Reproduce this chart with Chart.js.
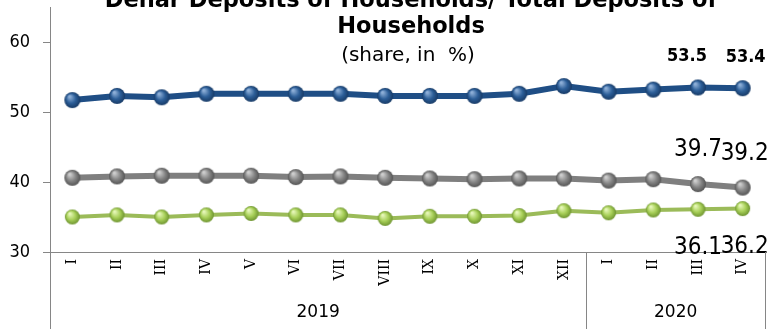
<!DOCTYPE html>
<html>
<head>
<meta charset="utf-8">
<script src="https://cdn.jsdelivr.net/npm/chart.js@4"></script>
<style>
html, body { margin: 0; padding: 0; background: #fff; }
#wrap { width: 771px; height: 329px; }
</style>
</head>
<body>
<div id="wrap"><canvas id="myChart" width="771" height="329"></canvas></div>
<script>
// data
const months = ['I','II','III','IV','V','VI','VII','VIII','IX','X','XI','XII','I','II','III','IV'];
const years = ['2019', '2020'];
const yearSpan = [12, 4];
const yTicks = [30, 40, 50, 60];

const serieAzul  = [51.7, 52.3, 52.1, 52.6, 52.6, 52.6, 52.6, 52.3, 52.3, 52.3, 52.6, 53.7, 52.9, 53.2, 53.5, 53.4];
const serieGris  = [40.6, 40.8, 40.9, 40.9, 40.9, 40.7, 40.8, 40.6, 40.5, 40.4, 40.5, 40.5, 40.2, 40.4, 39.7, 39.2];
const serieVerde = [35.0, 35.3, 35.0, 35.3, 35.5, 35.3, 35.3, 34.8, 35.1, 35.1, 35.2, 35.9, 35.6, 36.0, 36.1, 36.2];

const conEtiqueta = [14, 15];   // III and IV 2020 carry value labels

const titulo1 = 'Denar Deposits of Households/ Total Deposits of';
const titulo2 = 'Households';
const subtitulo = '(share, in  %)';

// little shaded balls for the markers
function bolita(r, claro, base, oscuro) {
  const c = document.createElement('canvas');
  const s = Math.ceil(r * 2 + 2);
  c.width = s; c.height = s;
  const g = c.getContext('2d');
  const m = s / 2;
  const grad = g.createRadialGradient(m - r * 0.35, m - r * 0.45, r * 0.1, m, m, r);
  grad.addColorStop(0, claro);
  grad.addColorStop(0.55, base);
  grad.addColorStop(1, oscuro);
  g.fillStyle = grad;
  g.beginPath();
  g.arc(m, m, r, 0, Math.PI * 2);
  g.fill();
  return c;
}

// label look per dataset (same order as datasets)
const estiloEtiqueta = [
  { font: 'bold 18px "DejaVu Sans Condensed"', dx: [-11, 3], dy: -31 },
  { font: '24px "DejaVu Sans Condensed"', dx: [0, 2], dy: -34 },
  { font: '24px "DejaVu Sans Condensed"', dx: [0, 2], dy: 38 }
];

const etiquetas = {
  id: 'etiquetas',
  afterDatasetsDraw(chart) {
    const ctx = chart.ctx;
    chart.data.datasets.forEach((ds, i) => {
      const st = estiloEtiqueta[i];
      const meta = chart.getDatasetMeta(i);
      conEtiqueta.forEach((idx, k) => {
        const p = meta.data[idx];
        ctx.save();
        ctx.font = st.font;
        ctx.fillStyle = '#000';
        ctx.textAlign = 'center';
        ctx.textBaseline = 'middle';
        ctx.fillText(ds.data[idx].toFixed(1), p.x + st.dx[k], p.y + st.dy);
        ctx.restore();
      });
    });
  }
};

// titles + year row under the month labels
const extras = {
  id: 'extras',
  afterDraw(chart) {
    const ctx = chart.ctx;
    const area = chart.chartArea;
    const xs = chart.scales.x;
    ctx.save();
    ctx.fillStyle = '#000';
    ctx.textAlign = 'center';
    ctx.textBaseline = 'alphabetic';
    ctx.font = 'bold 22.5px "DejaVu Sans"';
    ctx.fillText(titulo1, 411, 7);
    ctx.fillText(titulo2, 411, 33);
    ctx.font = '20px "DejaVu Sans"';
    ctx.fillText(subtitulo, 408, 61);

    const medio = (xs.getPixelForValue(1) - xs.getPixelForValue(0)) / 2;
    ctx.strokeStyle = '#868686';
    ctx.lineWidth = 1;
    ctx.font = '17px "DejaVu Sans"';
    ctx.textBaseline = 'middle';
    let inicio = 0;
    years.forEach((y, i) => {
      const fin = inicio + yearSpan[i] - 1;
      const izq = xs.getPixelForValue(inicio) - medio;
      const der = xs.getPixelForValue(fin) + medio;
      [izq, der].forEach(x => {
        const px = Math.round(x) + 0.5;
        ctx.beginPath();
        ctx.moveTo(px, area.bottom);
        ctx.lineTo(px, chart.height);
        ctx.stroke();
      });
      ctx.fillText(y, (izq + der) / 2, 313);
      inicio = fin + 1;
    });
    ctx.restore();
  }
};

function sinRelleno(s) {
  s.paddingTop = 0; s.paddingBottom = 0; s.paddingLeft = 0; s.paddingRight = 0;
}

const ctx = document.getElementById('myChart');
new Chart(ctx, {
  type: 'line',
  data: {
    labels: months,
    datasets: [
      {
        data: serieAzul,
        borderColor: '#1F4E85',
        borderWidth: 6,
        pointStyle: bolita(8, '#8fb0d8', '#2C5E98', '#173a66'),
        pointRadius: 8
      },
      {
        data: serieGris,
        borderColor: '#7F7F7F',
        borderWidth: 6,
        pointStyle: bolita(8, '#cfcfcf', '#858585', '#555555'),
        pointRadius: 8
      },
      {
        data: serieVerde,
        borderColor: '#9BBB59',
        borderWidth: 4,
        pointStyle: bolita(7.5, '#e6f7b8', '#a7cf58', '#6e9430'),
        pointRadius: 7.5
      }
    ]
  },
  options: {
    responsive: false,
    animation: false,
    devicePixelRatio: 1,
    layout: { autoPadding: false, padding: { top: 7, right: 6, left: 0, bottom: 0 } },
    elements: { line: { tension: 0, borderJoinStyle: 'round', borderCapStyle: 'round' } },
    plugins: { legend: { display: false }, tooltip: { enabled: false } },
    scales: {
      x: {
        offset: true,
        grid: { display: false, drawTicks: false },
        border: { color: '#868686', width: 1 },
        ticks: {
          autoSkip: false,
          minRotation: 90,
          maxRotation: 90,
          padding: 7,
          color: '#000',
          font: { family: 'DejaVu Serif', size: 14 }
        },
        afterFit(s) { s.height = 77; sinRelleno(s); }
      },
      y: {
        min: 30,
        max: 65,
        grid: { drawOnChartArea: false, drawTicks: true, tickLength: 7, tickColor: '#868686' },
        border: { color: '#868686', width: 1 },
        ticks: {
          padding: 13,
          color: '#000',
          font: { family: 'DejaVu Sans Condensed', size: 18 }
        },
        afterBuildTicks(s) { s.ticks = yTicks.map(v => ({ value: v })); },
        afterFit(s) { s.width = 50; sinRelleno(s); }
      }
    }
  },
  plugins: [etiquetas, extras]
});
</script>
</body>
</html>
